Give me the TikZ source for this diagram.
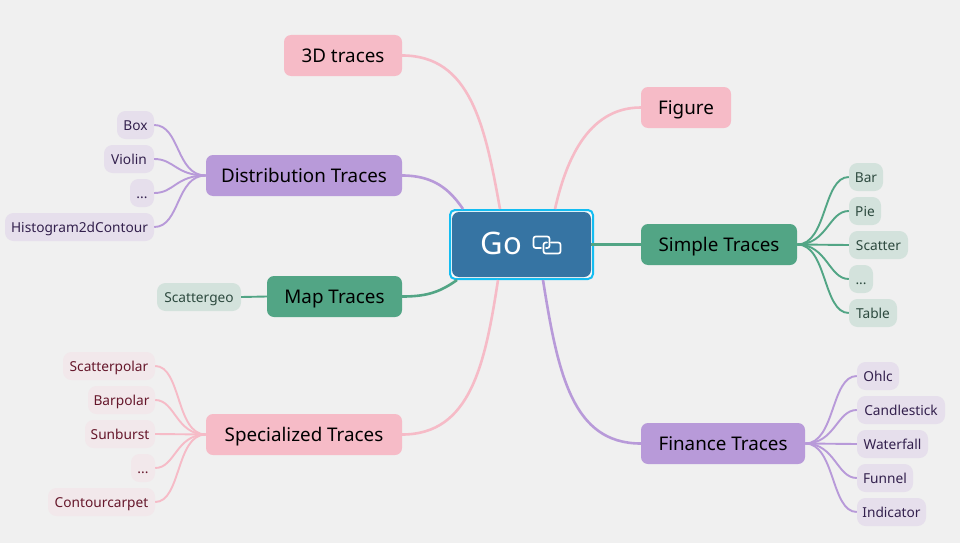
\documentclass[tikz,border=0pt]{standalone}
\usepackage{fontspec}
\setmainfont{Noto Sans}
\usetikzlibrary{arrows.meta}

\definecolor{canvasbg}{HTML}{F0F0F0}
\definecolor{pinkfill}{HTML}{F6BBC7}
\definecolor{purplefill}{HTML}{B89AD9}
\definecolor{greenfill}{HTML}{52A585}
\definecolor{gofill}{HTML}{3674A3}
\definecolor{selcyan}{HTML}{13BDF2}
\definecolor{pinkleaf}{HTML}{F2E8EB}
\definecolor{purpleleaf}{HTML}{E6DFEC}
\definecolor{greenleaf}{HTML}{D3E2DC}
\definecolor{pinktext}{HTML}{66172B}
\definecolor{purpletext}{HTML}{33204D}
\definecolor{greentext}{HTML}{2D4A3F}

\tikzset{
    topic/.style={rounded corners=7pt, minimum height=41pt, inner sep=0pt, text height=15pt, text depth=1pt, text=black, font=\fontsize{18.8}{20}\selectfont},
    leaf/.style={rounded corners=8.5pt, minimum height=28pt, inner sep=0pt, text height=11pt, text depth=1pt, font=\fontsize{13.7}{15}\selectfont},
    pinktopic/.style={topic, fill=pinkfill},
    purpletopic/.style={topic, fill=purplefill},
    greentopic/.style={topic, fill=greenfill},
    pinkleafbox/.style={leaf, fill=pinkleaf, text=pinktext},
    purpleleafbox/.style={leaf, fill=purpleleaf, text=purpletext},
    greenleafbox/.style={leaf, fill=greenleaf, text=greentext},
    pinkmain/.style={draw=pinkfill, line width=2.6pt},
    purplemain/.style={draw=purplefill, line width=2.6pt},
    greenmain/.style={draw=greenfill, line width=2.6pt},
    pinktwig/.style={draw=pinkfill, line width=1.9pt},
    purpletwig/.style={draw=purplefill, line width=1.9pt},
    greentwig/.style={draw=greenfill, line width=1.9pt},
}

\begin{document}
\begin{tikzpicture}[x=1pt, y=-1pt]
    \useasboundingbox[fill=canvasbg] (0,0) rectangle (960,543);

    \node[draw=selcyan, line width=2pt, fill=canvasbg!40!white, rounded corners=5pt, minimum width=143pt, minimum height=69pt, inner sep=0pt] (gosel) at (521.5,244.5) {};
    \node[fill=gofill, text=white, rounded corners=7pt, minimum width=139pt, minimum height=65pt, inner sep=0pt, text height=21pt, text depth=1pt, font=\fontsize{31}{33}\selectfont] (go) at (521.5,244.5) {Go\rule{40pt}{0pt}};
    \draw[white, line width=1.7pt, rounded corners=2.2pt, line cap=round] (541,248) -- (533.5,248) -- (533.5,236.5) -- (549.5,236.5) -- (549.5,248) -- (546,248);
    \draw[white, line width=1.7pt, rounded corners=2.2pt, line cap=round] (551,242.5) -- (560.5,242.5) -- (560.5,253.5) -- (543.5,253.5) -- (543.5,242.5) -- (547,242.5);

    \coordinate (goa) at (500,209);
    \coordinate (gob) at (555,209);
    \coordinate (goc) at (463,209);
    \coordinate (god) at (457,280);
    \coordinate (goe) at (498,280);
    \coordinate (gof) at (543,280);

    \node[pinktopic, minimum width=118pt] (threed) at (343,55.5) {3D traces};
    \node[pinktopic, minimum width=90pt] (figure) at (686,107.5) {Figure};
    \node[purpletopic, minimum width=196pt] (distribution) at (304,175.5) {Distribution Traces};
    \node[greentopic, minimum width=156pt] (simple) at (719,244.5) {Simple Traces};
    \node[greentopic, minimum width=135pt] (map) at (334.5,296.5) {Map Traces};
    \node[pinktopic, minimum width=196pt] (specialized) at (304,434.5) {Specialized Traces};
    \node[purpletopic, minimum width=164pt] (finance) at (723,443.5) {Finance Traces};

    \node[purpleleafbox, minimum width=37pt] (box) at (135.5,125) {Box};
    \node[purpleleafbox, minimum width=50pt] (violin) at (129,159) {Violin};
    \node[purpleleafbox, minimum width=24pt] (distdots) at (142,193) {...};
    \node[purpleleafbox, minimum width=149pt] (histogram) at (79.5,227) {Histogram2dContour};
    \node[greenleafbox, minimum width=84pt] (scattergeo) at (199,297) {Scattergeo};

    \node[pinkleafbox, minimum width=92pt] (scatterpolar) at (109,366) {Scatterpolar};
    \node[pinkleafbox, minimum width=67pt] (barpolar) at (121.5,400) {Barpolar};
    \node[pinkleafbox, minimum width=70pt] (sunburst) at (120,434) {Sunburst};
    \node[pinkleafbox, minimum width=24pt] (specdots) at (143,468) {...};
    \node[pinkleafbox, minimum width=107pt] (contourcarpet) at (101.5,502) {Contourcarpet};

    \node[greenleafbox, minimum width=34pt] (bar) at (866,177) {Bar};
    \node[greenleafbox, minimum width=32pt] (pie) at (865,211) {Pie};
    \node[greenleafbox, minimum width=59pt] (scatter) at (878.5,245) {Scatter};
    \node[greenleafbox, minimum width=24pt] (simpledots) at (861,279) {...};
    \node[greenleafbox, minimum width=48pt] (table) at (873,313) {Table};

    \node[purpleleafbox, minimum width=42pt] (ohlc) at (878,376) {Ohlc};
    \node[purpleleafbox, minimum width=88pt] (candlestick) at (901,410) {Candlestick};
    \node[purpleleafbox, minimum width=71pt] (waterfall) at (892.5,444) {Waterfall};
    \node[purpleleafbox, minimum width=56pt] (funnel) at (885,478) {Funnel};
    \node[purpleleafbox, minimum width=69pt] (indicator) at (891.5,512) {Indicator};

    \draw[pinkmain] (threed.east) .. controls +(68,0) and (485,125) .. (goa);
    \draw[pinkmain] (figure.west) .. controls +(-55,0) and (565,165) .. (gob);
    \draw[purplemain] (distribution.east) .. controls +(32,0) and (450,190) .. (goc);
    \draw[greenmain] (map.east) .. controls +(25,0) and (440,292) .. (god);
    \draw[pinkmain] (specialized.east) .. controls +(68,0) and (485,365) .. (goe);
    \draw[purplemain] (finance.west) .. controls +(-68,0) and (558,375) .. (gof);
    \draw[greenmain] (go.east) -- (simple.west);

    \draw[purpletwig] (box.east) .. controls +(26,0) and +(-30,0) .. (distribution.west);
    \draw[purpletwig] (violin.east) .. controls +(20,0) and +(-30,0) .. (distribution.west);
    \draw[purpletwig] (distdots.east) .. controls +(20,0) and +(-30,0) .. (distribution.west);
    \draw[purpletwig] (histogram.east) .. controls +(26,0) and +(-30,0) .. (distribution.west);
    \draw[greentwig] (scattergeo.east) -- (map.west);

    \draw[pinktwig] (scatterpolar.east) .. controls +(26,0) and +(-30,0) .. (specialized.west);
    \draw[pinktwig] (barpolar.east) .. controls +(20,0) and +(-30,0) .. (specialized.west);
    \draw[pinktwig] (sunburst.east) -- (specialized.west);
    \draw[pinktwig] (specdots.east) .. controls +(20,0) and +(-30,0) .. (specialized.west);
    \draw[pinktwig] (contourcarpet.east) .. controls +(26,0) and +(-30,0) .. (specialized.west);

    \draw[greentwig] (simple.east) .. controls +(30,0) and +(-26,0) .. (bar.west);
    \draw[greentwig] (simple.east) .. controls +(30,0) and +(-20,0) .. (pie.west);
    \draw[greentwig] (simple.east) -- (scatter.west);
    \draw[greentwig] (simple.east) .. controls +(30,0) and +(-20,0) .. (simpledots.west);
    \draw[greentwig] (simple.east) .. controls +(30,0) and +(-26,0) .. (table.west);

    \draw[purpletwig] (finance.east) .. controls +(30,0) and +(-26,0) .. (ohlc.west);
    \draw[purpletwig] (finance.east) .. controls +(30,0) and +(-20,0) .. (candlestick.west);
    \draw[purpletwig] (finance.east) -- (waterfall.west);
    \draw[purpletwig] (finance.east) .. controls +(30,0) and +(-20,0) .. (funnel.west);
    \draw[purpletwig] (finance.east) .. controls +(30,0) and +(-26,0) .. (indicator.west);
\end{tikzpicture}
\end{document}
